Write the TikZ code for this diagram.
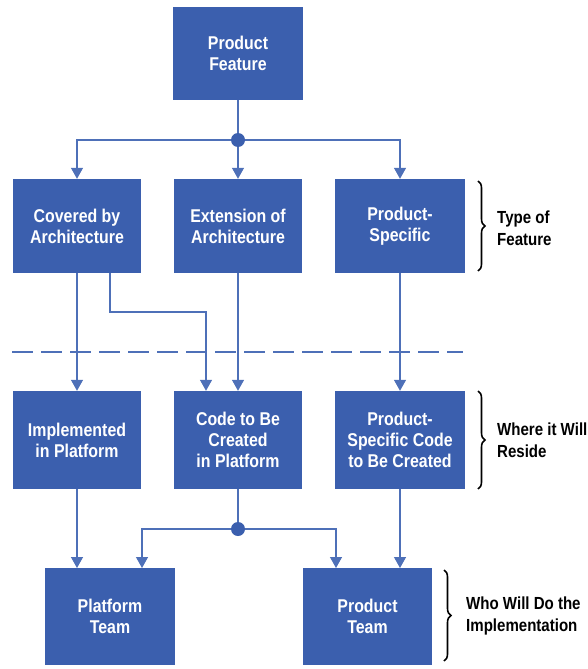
\documentclass[tikz,border=0pt]{standalone}
\usepackage{fontspec}
\setmainfont[FakeStretch=0.86]{Liberation Sans}
\usetikzlibrary{arrows.meta,decorations.pathreplacing}
\definecolor{boxblue}{HTML}{3B5FAE}
\definecolor{lineblue}{HTML}{4E70B8}
\tikzset{
  box/.style={fill=boxblue, draw=none, text=white, font=\bfseries\fontsize{18.5}{21}\selectfont,
    align=center, inner sep=0pt},
  wbox/.style={box, minimum width=128pt},
  conn/.style={draw=lineblue, line width=1.3pt},
  arr/.style={conn, -{Triangle[width=12pt,length=11pt]}},
  dot/.style={circle, fill=boxblue, minimum size=14pt, inner sep=0pt},
  label/.style={font=\bfseries\fontsize{17.5}{22}\selectfont, align=left, anchor=west, text=black, inner sep=0pt},
  brace/.style={decorate, decoration={brace, amplitude=7pt}, line width=1.6pt, draw=black},
}
\begin{document}
\begin{tikzpicture}[x=1pt,y=-1pt]
\useasboundingbox (0,0) rectangle (588,669);

% feature box
\node[box, minimum width=130pt, minimum height=93pt] (pf) at (238,53.5) {Product\\Feature};

% type of feature
\node[wbox, minimum height=94pt] (cov)  at (77,226)  {Covered by\\Architecture};
\node[wbox, minimum height=94pt] (ext)  at (238,226) {Extension of\\Architecture};
\node[box, minimum width=130pt, minimum height=94pt] (spec) at (400,226) {Product-\\Specific};

% where it will reside
\node[wbox, minimum height=98pt] (imp)  at (77,440)  {Implemented\\in Platform};
\node[wbox, minimum height=98pt] (code) at (238,440) {Code to Be\\Created\\in Platform};
\node[box, minimum width=130pt, minimum height=98pt] (psc) at (400,440) {Product-\\Specific Code\\to Be Created};

% who will do the implementation
\node[box, minimum width=130pt, minimum height=97pt] (pt)  at (110,616.5) {Platform\\Team};
\node[box, minimum width=129pt, minimum height=97pt] (prt) at (367.5,616.5) {Product\\Team};

% junctions
\node[dot] (j1) at (238,140) {};
\node[dot] (j2) at (238,529) {};

% separator
\draw[draw=lineblue, line width=1.3pt, dash pattern=on 21pt off 8pt] (12,352) coordinate (sepl) -- (463,352) coordinate (sepr);

% connectors
\draw[conn] (pf.south) -- (j1);
\draw[arr] (j1) -| (cov.north);
\draw[arr] (j1) -- (ext.north);
\draw[arr] (j1) -| (spec.north);

\draw[arr] (cov.south) -- (imp.north);
\coordinate (covb) at ([xshift=33pt]cov.south);
\coordinate (codet) at ([xshift=-32pt]code.north);
\coordinate (bend) at (110,312);
\draw[arr] (covb) -- (bend) -| (codet);
\draw[arr] (ext.south) -- (code.north);
\draw[arr] (spec.south) -- (psc.north);

\coordinate (ptt) at (77,568);
\draw[arr] (imp.south) -- (ptt);
\draw[conn] (code.south) -- (j2);
\coordinate (pttr) at (142,568);
\coordinate (prtl) at (336,568);
\draw[arr] (j2) -| (pttr);
\draw[arr] (j2) -| (prtl);
\coordinate (prtr) at (400,568);
\draw[arr] (psc.south) -- (prtr);

% braces and side labels
\coordinate (b1t) at (478,181); \coordinate (b1b) at (478,271);
\draw[brace] (b1t) -- (b1b);
\node[label] (l1) at (497,228) {Type of\\Feature};

\coordinate (b2t) at (478,391); \coordinate (b2b) at (478,489);
\draw[brace] (b2t) -- (b2b);
\node[label] (l2) at (497,440) {Where it Will\\Reside};

\coordinate (b3t) at (444,570); \coordinate (b3b) at (444,661);
\draw[brace] (b3t) -- (b3b);
\node[label] (l3) at (466,616) {Who Will Do the\\Implementation};
\end{tikzpicture}
\end{document}
